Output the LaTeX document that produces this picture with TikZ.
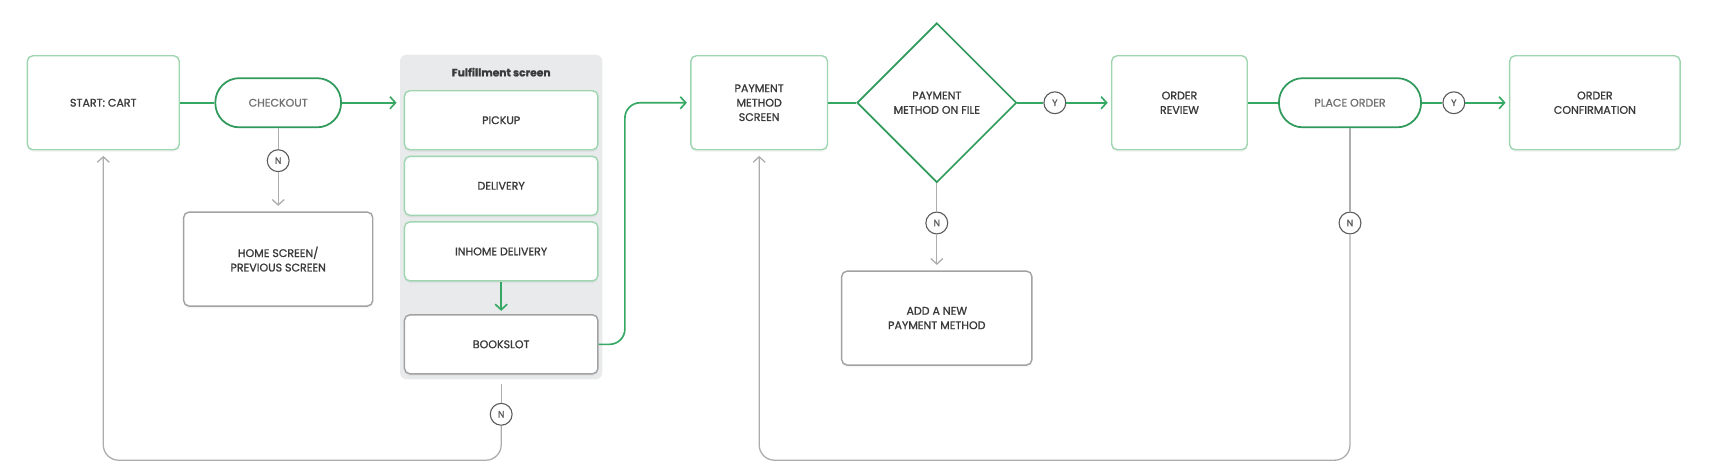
\documentclass[tikz,border=0pt]{standalone}
\usepackage{fontspec}
\setmainfont{Poppins}[FakeBold=1.1]
\usetikzlibrary{positioning, arrows.meta, shapes.geometric, shadows}

\definecolor{boxgreen}{HTML}{9FD6B1}
\definecolor{darkgreen}{HTML}{2F9A5B}
\definecolor{arrowgreen}{HTML}{35A863}
\definecolor{boxgray}{HTML}{A2A2A2}
\definecolor{linegray}{HTML}{ADADAD}
\definecolor{circgray}{HTML}{5A5A5A}
\definecolor{textgray}{HTML}{3A3A3A}
\definecolor{pilltext}{HTML}{707070}
\definecolor{panelgray}{HTML}{E9EAEB}

\begin{document}
\begin{tikzpicture}[
  x=1pt, y=1pt,
  screen/.style={draw=boxgreen, line width=1.3pt, rounded corners=5pt, fill=white, minimum width=139pt, minimum height=86pt, align=center, text=textgray, font=\fontsize{10.1}{13.2}\selectfont, drop shadow={shadow xshift=0pt, shadow yshift=-2pt, opacity=0.08}},
  grayscreen/.style={screen, draw=boxgray},
  option/.style={screen, minimum width=177pt, minimum height=54pt, drop shadow={opacity=0}},
  pill/.style={draw=darkgreen, line width=1.6pt, rounded corners=22pt, fill=white, minimum width=115pt, minimum height=45pt, text=pilltext, font=\fontsize{10.1}{13.2}\selectfont},
  decision/.style={diamond, draw=darkgreen, line width=1.6pt, fill=white, minimum width=146pt, minimum height=146pt, inner sep=0pt, align=center, text=textgray, font=\fontsize{10.1}{13.2}\selectfont},
  answer/.style={circle, draw=circgray, line width=1pt, fill=white, minimum size=20pt, inner sep=0pt, text=circgray, font=\fontsize{8.5}{9}\selectfont},
  flow/.style={draw=arrowgreen, line width=1.5pt},
  flowarrow/.style={flow, -{Straight Barb[length=5pt, width=11pt]}, shorten >=3pt},
  back/.style={draw=linegray, line width=1.2pt},
  backarrow/.style={back, -{Straight Barb[length=5pt, width=11pt]}, shorten >=5pt}
]
  \useasboundingbox (0,0) rectangle (1568,-435);

  % Fulfillment panel
  \node[fill=panelgray, rounded corners=6pt, minimum width=185pt, minimum height=297pt, inner sep=0pt] (panel) at (458.5,-198.5) {};
  \node[font=\fontsize{9.8}{13}\selectfont\bfseries, text=textgray] (title) at (458.5,-66) {Fulfillment screen};
  \node[option] (pickup) at (458.5,-110) {PICKUP};
  \node[option] (delivery) at (458.5,-170) {DELIVERY};
  \node[option] (inhome) at (458.5,-230) {INHOME DELIVERY};
  \node[option, draw=boxgray] (bookslot) at (458.5,-315) {BOOKSLOT};

  % Main row
  \node[screen] (start) at (94.5,-94) {START: CART};
  \node[pill] (checkout) at (254.5,-94) {CHECKOUT};
  \node[screen, minimum width=125pt] (payment) at (694.5,-94) {PAYMENT\\METHOD\\SCREEN};
  \node[decision] (decision) at (857,-94) {PAYMENT\\METHOD ON FILE};
  \node[answer] (y1) at (965,-94) {Y};
  \node[screen, minimum width=124pt] (review) at (1079,-94) {ORDER\\REVIEW};
  \node[pill, minimum width=130pt] (placeorder) at (1235,-94) {PLACE ORDER};
  \node[answer] (y2) at (1330,-94) {Y};
  \node[screen, minimum width=156pt] (confirm) at (1459,-94) {ORDER\\CONFIRMATION};

  % No branches
  \node[answer] (n1) at (254.5,-147) {N};
  \node[grayscreen, minimum width=173pt] (home) at (254.5,-237) {HOME SCREEN/\\PREVIOUS SCREEN};
  \node[answer] (n3) at (857,-204) {N};
  \node[grayscreen, minimum width=174pt] (addnew) at (857,-291) {ADD A NEW\\PAYMENT METHOD};
  \node[answer] (n4) at (1235,-204) {N};
  \node[answer] (n2) at (458.5,-379) {N};
  \coordinate (floor) at (0,-421);

  % Green flow
  \draw[flow] (start) -- (checkout);
  \draw[flowarrow] (checkout) -- (checkout.east -| panel.west);
  \draw[flowarrow] (inhome) -- (bookslot);
  \draw[flowarrow, rounded corners=14pt] (bookslot.east) -- ++(24,0) |- (payment.west);
  \draw[flow] (payment) -- (decision);
  \draw[flow] (decision) -- (y1);
  \draw[flowarrow] (y1) -- (review);
  \draw[flow] (review) -- (placeorder);
  \draw[flow] (placeorder) -- (y2);
  \draw[flowarrow] (y2) -- (confirm);

  % Gray returns
  \draw[back] (checkout) -- (n1);
  \draw[backarrow] (n1) -- (home);
  \draw[back] (decision) -- (n3);
  \draw[backarrow] (n3) -- (addnew);
  \draw[back] ([yshift=-4pt]panel.south) -- (n2);
  \draw[backarrow, rounded corners=14pt] (n2.south) |- (start.south |- floor) -- (start.south);
  \draw[back] (placeorder) -- (n4);
  \draw[backarrow, rounded corners=14pt] (n4.south) |- (payment.south |- floor) -- (payment.south);
\end{tikzpicture}
\end{document}
